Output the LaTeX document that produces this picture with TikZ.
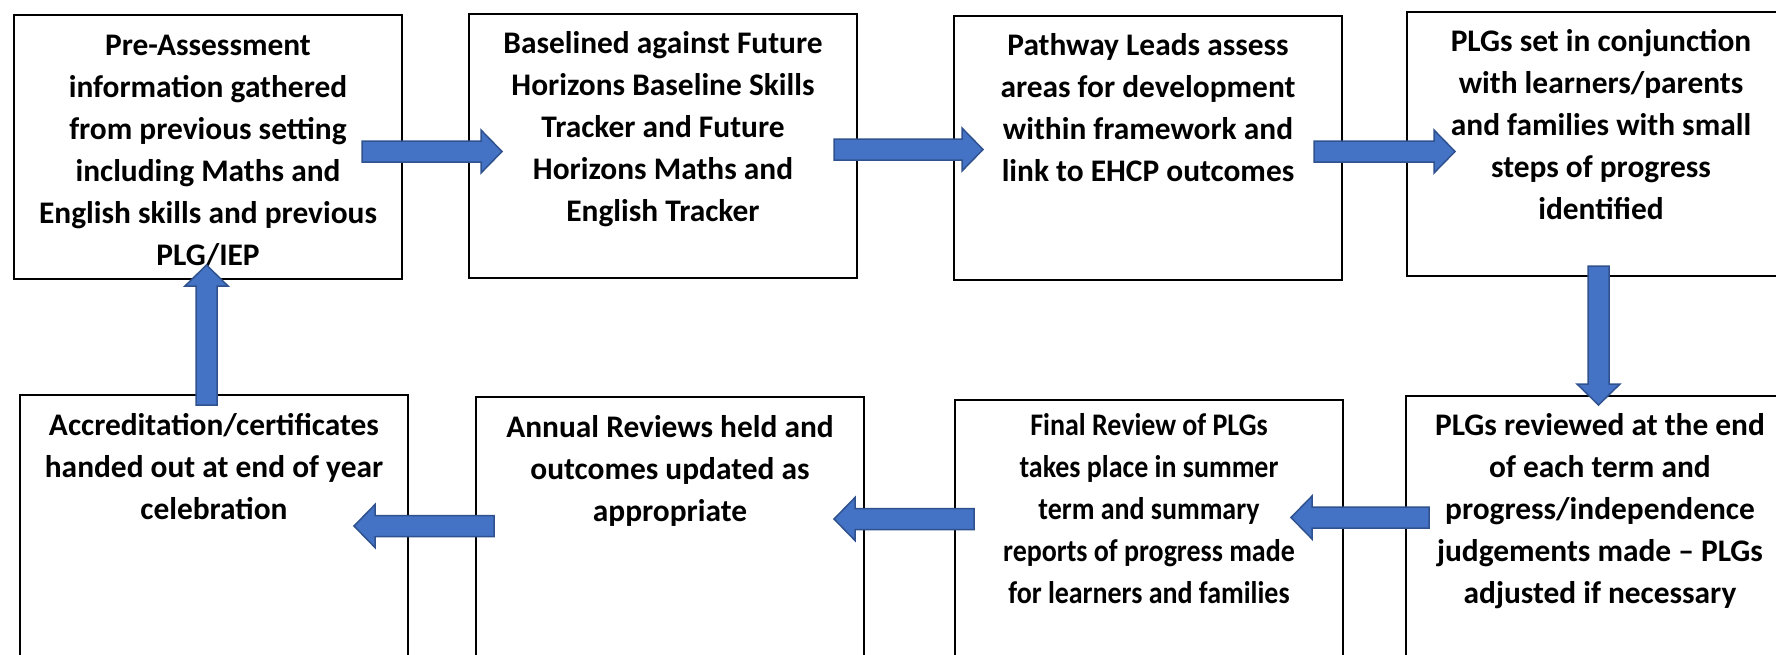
\documentclass[tikz,border=0pt]{standalone}
\usepackage{fontspec}
\setmainfont{Carlito}
\usetikzlibrary{calc}
\definecolor{arrowfill}{HTML}{4472C4}
\definecolor{arrowline}{HTML}{2F528F}
\tikzset{
  box/.style={draw=black, line width=1pt, fill=none, minimum width=194pt, minimum height=132pt, inner sep=0pt, anchor=north west},
  btext/.style={inner sep=0pt, anchor=north, align=center, font=\fontsize{15.7}{21}\selectfont\bfseries},
  blockarrow/.style={fill=arrowfill, draw=arrowline, line width=0.75pt, line join=miter}
}
\newcommand\blockarrow[2]{%
  \coordinate (hb-#1) at ($(#2)!10.5pt!(#1)$);
  \draw[blockarrow] ($(#1)!5.25pt!90:(#2)$) -- ($(hb-#1)!5.25pt!-90:(#1)$)
     -- ($(hb-#1)!10.75pt!-90:(#1)$) -- (#2) -- ($(hb-#1)!10.75pt!90:(#1)$)
     -- ($(hb-#1)!5.25pt!90:(#1)$) -- ($(#1)!5.25pt!-90:(#2)$) -- cycle;
}
\begin{document}
\begin{tikzpicture}[x=0.5pt,y=-0.5pt]
\clip (0,0) rectangle (1776,654);
\fill[white] (0,0) rectangle (1776,654);
% boxes
\node[box] (b1) at (13,14) {};
\node[box] (b2) at (468,13) {};
\node[box] (b3) at (953,15) {};
\node[box] (b4) at (1406,11) {};
\node[box, minimum height=150pt] (b5) at (19,394) {};
\node[box, minimum height=150pt] (b6) at (475,396) {};
\node[box, minimum height=150pt] (b7) at (954,399) {};
\node[box, minimum height=150pt] (b8) at (1405,395) {};
% texts
\node[btext] (t1) at ([yshift=-5.8pt]b1.north) {\strut Pre-Assessment\\information gathered\\from previous setting\\including Maths and\\English skills and previous\\PLG/IEP};
\node[btext] (t2) at ([yshift=-5.3pt]b2.north) {\strut Baselined against Future\\Horizons Baseline Skills\\Tracker and Future\\Horizons Maths and\\English Tracker};
\node[btext] (t3) at ([yshift=-5.3pt]b3.north) {\strut Pathway Leads assess\\areas for development\\within framework and\\link to EHCP outcomes};
\node[btext] (t4) at ([yshift=-5.3pt]b4.north) {\strut PLGs set in conjunction\\with learners/parents\\and families with small\\steps of progress\\identified};
\node[btext] (t5) at ([yshift=-5.8pt]b5.north) {\strut Accreditation/certificates\\handed out at end of year\\celebration};
\node[btext] (t6) at ([yshift=-5.8pt]b6.north) {\strut Annual Reviews held and\\outcomes updated as\\appropriate};
\node[btext] (t7) at ([yshift=-3.5pt]b7.north) {\scalebox{0.89}[1]{\begin{tabular}{@{}c@{}}\strut Final Review of PLGs\\takes place in summer\\term and summary\\reports of progress made\\for learners and families\end{tabular}}};
\node[btext] (t8) at ([yshift=-5.3pt]b8.north) {\strut PLGs reviewed at the end\\of each term and\\progress/independence\\judgements made – PLGs\\adjusted if necessary};
% arrow end points
\coordinate (a1s) at (362,151.5); \coordinate (a1e) at (502,151.5);
\coordinate (a2s) at (834,149.5); \coordinate (a2e) at (983,149.5);
\coordinate (a3s) at (1314,151.5); \coordinate (a3e) at (1455,151.5);
\coordinate (a4s) at (1598.5,266); \coordinate (a4e) at (1598.5,405);
\coordinate (a5s) at (1429,517.5); \coordinate (a5e) at (1291,517.5);
\coordinate (a6s) at (974,519); \coordinate (a6e) at (834,519);
\coordinate (a7s) at (494,526); \coordinate (a7e) at (354,526);
\coordinate (a8s) at (206.5,405); \coordinate (a8e) at (206.5,265);
\blockarrow{a1s}{a1e}
\blockarrow{a2s}{a2e}
\blockarrow{a3s}{a3e}
\blockarrow{a4s}{a4e}
\blockarrow{a5s}{a5e}
\blockarrow{a6s}{a6e}
\blockarrow{a7s}{a7e}
\blockarrow{a8s}{a8e}
\end{tikzpicture}
\end{document}
